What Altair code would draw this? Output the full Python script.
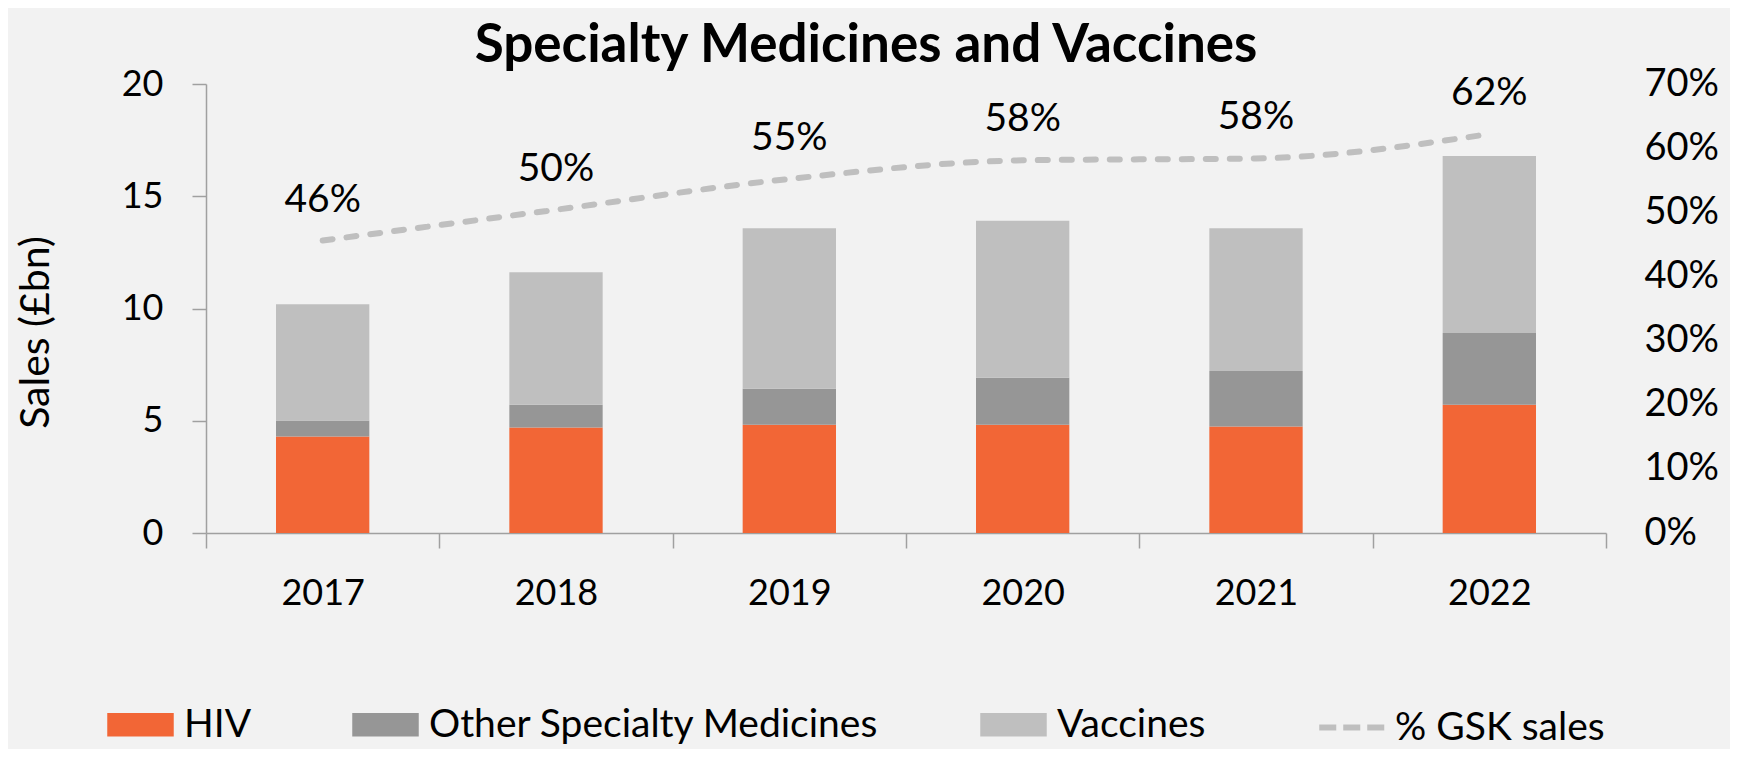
import altair as alt
import pandas as pd

# ---- data ----
years = ["2017", "2018", "2019", "2020", "2021", "2022"]
hiv = [4.30, 4.70, 4.82, 4.82, 4.74, 5.71]
other_specialty = [0.71, 1.01, 1.60, 2.09, 2.48, 3.20]
vaccines = [5.18, 5.91, 7.15, 7.00, 6.35, 7.88]
gsk_share = [0.456, 0.504, 0.552, 0.581, 0.584, 0.622]
share_labels = ["46%", "50%", "55%", "58%", "58%", "62%"]

bar_series = ["HIV", "Other Specialty Medicines", "Vaccines"]
bar_colors = ["#F26636", "#969696", "#BFBFBF"]
line_series = "% GSK sales"
line_color = "#BFBFBF"

FONT = "Lato"

rows = []
for i, y in enumerate(years):
    for k, (name, vals) in enumerate(zip(bar_series, [hiv, other_specialty, vaccines])):
        rows.append({"year": y, "series": name, "value": vals[i], "order": k})
bar_df = pd.DataFrame(rows)

share_df = pd.DataFrame({
    "year": years,
    "share": gsk_share,
    "label": share_labels,
    "series": [line_series] * len(years),
})

x_enc = alt.X(
    "year:N",
    sort=years,
    scale=alt.Scale(paddingInner=0, paddingOuter=0),
    axis=alt.Axis(
        title=None, labelAngle=0, tickBand="extent", domainColor="#A0A0A0",
        domainWidth=1.5, tickColor="#A0A0A0", tickWidth=1.5, tickSize=15,
        labelFontSize=36, labelFont=FONT, labelColor="black", labelPadding=28,
        grid=False,
    ),
)

bars = alt.Chart(bar_df).mark_bar(width=alt.RelativeBandSize(0.4)).encode(
    x=x_enc,
    y=alt.Y(
        "value:Q",
        stack="zero",
        scale=alt.Scale(domain=[0, 20]),
        axis=alt.Axis(
            values=[0, 5, 10, 15, 20], title="Sales (£bn)", titleFont=FONT,
            titleFontSize=41, titleFontWeight="normal", titleColor="black",
            titleAngle=270, titleX=-170, titleY=248, titleAlign="center",
            titleBaseline="middle",
            domainColor="#A0A0A0", domainWidth=1.5, tickColor="#A0A0A0",
            tickWidth=1.5, tickSize=14, labelFontSize=36, labelFont=FONT,
            labelColor="black", labelPadding=29, grid=False,
        ),
    ),
    color=alt.Color(
        "series:N",
        scale=alt.Scale(domain=bar_series, range=bar_colors),
        legend=alt.Legend(
            title=None, orient="none", legendX=-99, legendY=607,
            direction="horizontal", columns=3, columnPadding=100,
            symbolType="M-1,-0.356H1V0.356H-1Z", symbolSize=4422,
            symbolStrokeWidth=0, symbolOpacity=1, labelFontSize=39,
            labelFont=FONT, labelColor="black", labelOffset=10, padding=0,
            labelLimit=1000,
        ),
    ),
    order=alt.Order("order:Q"),
)

line = alt.Chart(share_df).mark_line(
    strokeWidth=6, strokeDash=[10, 14], strokeCap="round", interpolate="monotone"
).encode(
    x=alt.X("year:N", sort=years),
    y=alt.Y(
        "share:Q",
        scale=alt.Scale(domain=[0, 0.7]),
        axis=alt.Axis(
            orient="right", format=".0%",
            values=[0, 0.1, 0.2, 0.3, 0.4, 0.5, 0.6, 0.7], title=None,
            domain=False, ticks=False, tickSize=0, labelPadding=38,
            labelFontSize=38, labelFont=FONT, labelColor="black", grid=False,
        ),
    ),
    stroke=alt.Stroke(
        "series:N",
        scale=alt.Scale(domain=[line_series], range=[line_color]),
        legend=alt.Legend(
            title=None, orient="none", legendX=1110, legendY=607,
            symbolType="stroke", symbolSize=4422, symbolStrokeWidth=6,
            symbolDash=[17, 7], labelFontSize=39, labelFont=FONT,
            labelColor="black", labelOffset=6, padding=0, labelLimit=1000,
        ),
    ),
)

labels = alt.Chart(share_df).mark_text(
    dy=-41, fontSize=39, font=FONT, color="black"
).encode(
    x=alt.X("year:N", sort=years),
    y=alt.Y("share:Q", scale=alt.Scale(domain=[0, 0.7]), axis=None),
    text="label:N",
)

chart = alt.layer(bars, line, labels).resolve_scale(
    y="independent", color="independent", stroke="independent"
).properties(
    width=1400,
    height=449,
    title=alt.Title(
        "Specialty Medicines and Vaccines", fontSize=53, font=FONT,
        fontWeight="bold", color="black", anchor="middle", dx=-40, offset=-8,
    ),
    autosize=alt.AutoSizeParams(type="none"),
    padding={"left": 198, "top": 76, "right": 124, "bottom": 216},
).configure(
    background="#F2F2F2",
).configure_view(stroke=None)

chart.save("out.html", embed_options={"renderer": "svg", "actions": False})
